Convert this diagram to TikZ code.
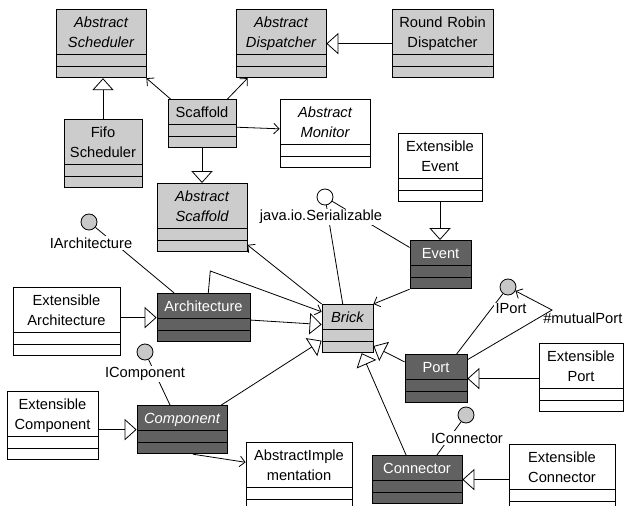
\documentclass[tikz,border=0pt]{standalone}
\usepackage{fontspec}
\setmainfont{Liberation Sans}
\usetikzlibrary{arrows.meta, shapes.multipart}
\definecolor{lightcls}{HTML}{CCCCCC}
\definecolor{darkcls}{HTML}{616161}
\definecolor{ifacefill}{HTML}{C8C8C8}
\newcommand\umlfont{\fontsize{11}{15}\selectfont}
% class name and two empty compartments
\newcommand\umlcls[1]{\rule{0pt}{12pt}#1\rule[-3pt]{0pt}{3pt}\nodepart{two}\rule{0pt}{5.25pt}\nodepart{three}\rule{0pt}{5.25pt}}
\tikzset{
  umlbox/.style={rectangle split, rectangle split parts=3, draw=black, line width=0.6pt,
    anchor=north, inner xsep=2pt, inner ysep=1.5pt, align=center, font=\umlfont},
  lightbox/.style={umlbox, fill=lightcls},
  darkbox/.style={umlbox, fill=darkcls, text=white},
  whitebox/.style={umlbox, fill=white},
  abstr/.style={font=\umlfont\itshape},
  iface/.style={circle, draw=black, line width=0.6pt, fill=ifacefill, minimum size=12pt, inner sep=0pt},
  ifacelabel/.style={font=\umlfont, fill=white, inner sep=1pt},
  assoc/.style={line width=0.6pt, -{Straight Barb[length=4pt,width=8pt]}},
  inherit/.style={line width=0.6pt, -{Triangle[length=9pt,width=16pt,fill=white]}},
  link/.style={line width=0.6pt},
}

\begin{document}
\begin{tikzpicture}[x=0.75pt, y=-0.75pt]
    \useasboundingbox (0,0) rectangle (624,506);

    % Scheduling and dispatching
    \node[lightbox, abstr, text width=63.5pt] (sched) at (101,9) {\umlcls{Abstract\\Scheduler}};
    \node[lightbox, abstr, text width=63.5pt] (disp) at (281,9) {\umlcls{Abstract\\Dispatcher}};
    \node[lightbox, text width=71.75pt] (rrdisp) at (442.5,9) {\umlcls{Round Robin\\Dispatcher}};
    \node[lightbox, text width=54.5pt] (fifo) at (103,119) {\umlcls{Fifo\\Scheduler}};
    \node[lightbox, text width=47pt] (scaf) at (202,99) {\umlcls{Scaffold}};
    \node[whitebox, abstr, text width=63.5pt] (mon) at (325,99) {\umlcls{Abstract\\Monitor}};
    \node[lightbox, abstr, text width=63.5pt] (ascaf) at (202,183) {\umlcls{Abstract\\Scaffold}};

    % Bricks
    \node[lightbox, abstr, text width=34.25pt] (brick) at (347.5,304) {\umlcls{Brick}};
    \node[whitebox, text width=59pt] (xevent) at (440,133) {\umlcls{Extensible\\Event}};
    \node[darkbox, text width=41.75pt] (event) at (440.5,240) {\umlcls{Event}};
    \node[darkbox, text width=65.75pt] (arch) at (203.5,293) {\umlcls{Architecture}};
    \node[whitebox, text width=76.25pt] (xarch) at (66.5,287) {\umlcls{Extensible\\Architecture}};
    \node[darkbox, text width=42.5pt] (port) at (436,354) {\umlcls{Port}};
    \node[whitebox, text width=59pt] (xport) at (581,343) {\umlcls{Extensible\\Port}};
    \node[darkbox, abstr, text width=63.5pt] (comp) at (182,405) {\umlcls{Component}};
    \node[whitebox, text width=64.25pt] (xcomp) at (52.5,391) {\umlcls{Extensible\\Component}};
    \node[whitebox, text width=75.5pt] (impl) at (299,442) {\umlcls{AbstractImple\\mentation}};
    \node[darkbox, text width=63.5pt] (conn) at (417,455) {\umlcls{Connector}};
    \node[whitebox, text width=75.5pt] (xconn) at (562,444) {\umlcls{Extensible\\Connector}};

    % Interfaces
    \node[iface] (iarch) at (89,222) {};
    \node[iface] (icomp) at (145,352) {};
    \node[iface] (iport) at (508,287) {};
    \node[iface] (iconn) at (466,415) {};
    \node[iface, fill=white] (iser) at (325,197) {};

    % Generalisations
    \draw[inherit] (fifo.north) -- (fifo.north |- sched.south);
    \draw[inherit] (rrdisp.west) -- (disp.east);
    \draw[inherit] (scaf.south) -- (ascaf.north);
    \draw[inherit] (xevent.south) -- (xevent.south |- event.north);
    \draw[inherit] (xarch.east |- arch.west) -- (arch.west);
    \draw[inherit] (xcomp.east |- comp.west) -- (comp.west);
    \draw[inherit] (xport.west |- port.east) -- (port.east);
    \draw[inherit] (xconn.west |- conn.east) -- (conn.east);
    \draw[inherit] (arch.-3) -- (brick.171);
    \draw[inherit] (comp.32) -- (brick.205);
    \draw[inherit] (port.152) -- (brick.-34);
    \draw[inherit] (conn.114) -- (brick.-60);

    % Associations
    \draw[assoc] (scaf.142) -- (sched.south east);
    \draw[assoc] (scaf.44) -- (disp.226);
    \draw[assoc] (scaf.-6) -- (mon.174);
    \draw[assoc] (brick.north west) -- (ascaf.-31);
    \draw[assoc] (event.south west) -- (brick.north east);
    \draw[assoc] (arch.79) -- ++(2,-22) -- (brick.147);
    \draw[assoc] (comp.-66) -- (impl.165);
    \coordinate (mutual) at (552,310);
    \draw[assoc] (port.31) -- (mutual) -- (iport);

    % Lollipops
    \draw[link] (iarch) -- (arch.140);
    \draw[link] (icomp) -- (comp.116);
    \draw[link] (iport) -- (port.50);
    \draw[link] (iconn) -- (conn.51);
    \draw[link] (iser) -- (brick.101);
    \draw[link] (iser) -- (event.151);

    % Interface names
    \node[ifacelabel] (iarchlbl) at (91,243) {IArchitecture};
    \node[ifacelabel] (icomplbl) at (145,374) {IComponent};
    \node[ifacelabel] (iportlbl) at (511,309) {IPort};
    \node[ifacelabel] (iconnlbl) at (467,438) {IConnector};
    \node[ifacelabel] (iserlbl) at (321,217) {java.io.Serializable};
    \node[font=\umlfont, anchor=west, inner sep=0pt] (mutuallbl) at (543,318) {\#mutualPort};
\end{tikzpicture}
\end{document}
